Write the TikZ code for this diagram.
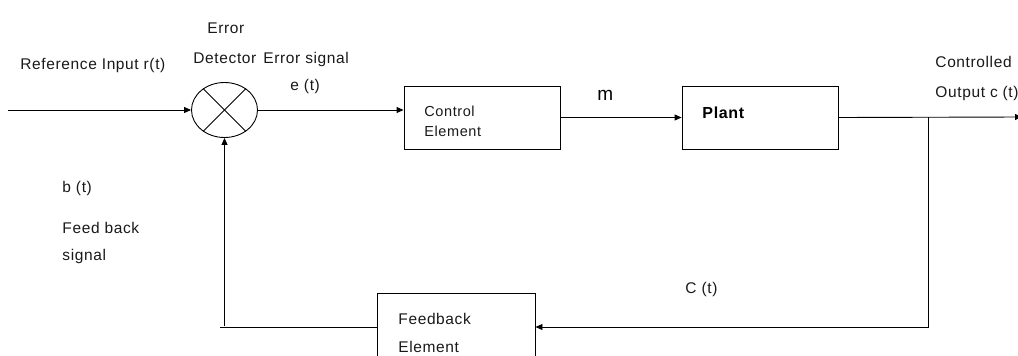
\documentclass[tikz,border=0pt]{standalone}
\usepackage{fontspec}
\setmainfont{Liberation Sans}[LetterSpace=4]
\usetikzlibrary{arrows.meta,shapes.geometric}
\begin{document}
\begin{tikzpicture}[x=1pt,y=-1pt,
  every path/.style={line width=0.9pt},
  tip/.style={-{Triangle[length=7pt,width=6pt]}},
  lbl/.style={anchor=base west,inner sep=0pt,font=\fontsize{15.5}{18}\selectfont,text=black!90},
  blk/.style={draw,rectangle,minimum width=156pt,minimum height=63pt,inner sep=0pt}]
\useasboundingbox (0,0) rectangle (1018,356);
% nodes
\node[draw,ellipse,minimum width=66pt,minimum height=55pt,inner sep=0pt] (ed) at (224.5,110) {};
\node[blk] (ctrl) at (482,117.5) {};
\node[blk] (plant) at (760,117.5) {};
\node[blk,minimum width=158pt,minimum height=68pt] (fb) at (456,327) {};
\coordinate (in) at (8,110);
\coordinate (out) at (1022,117);
\coordinate (br) at (928,117);
\coordinate (fbl) at (224.5,326);
% cross
\draw (ed.45) -- (ed.225);
\draw (ed.135) -- (ed.315);
% connectors
\draw[tip] (in) -- (ed.west);
\draw[tip] (ed.east) -- (ctrl.west |- ed.east);
\draw[tip] (ctrl.east) -- (plant.west);
\draw[tip] (plant.east) -- (out);
\draw[tip] (br) |- (fb.east);
\draw (fb.west) -- (220,327);
\draw[tip] (fbl) -- (ed.south);
% labels
\node[lbl] (t1) at (207,33) {Error};
\node[lbl] (t2) at (193,63) {Detector};
\node[lbl] (t3) at (263,63) {Error signal};
\node[lbl] (t4) at (290,90) {e (t)};
\node[lbl] (t5) at (20,69) {Reference Input r(t)};
\node[lbl] (t6) at (935,67) {Controlled};
\node[lbl] (t7) at (935,97) {Output c (t)};
\node[lbl] (t8) at (62,192) {b (t)};
\node[lbl] (t9) at (62,233) {Feed back};
\node[lbl] (t10) at (62,260) {signal};
\node[lbl] (t11) at (685,293) {C (t)};
\node[lbl,font=\fontsize{14.5}{16}\selectfont] (t12) at (424,116) {Control};
\node[lbl,font=\fontsize{14.5}{16}\selectfont] (t13) at (424,136) {Element};
\node[lbl,font=\fontsize{16}{18}\bfseries,text=black] (t14) at (702,118) {Plant};
\node[lbl,font=\fontsize{19}{22}\selectfont,text=black] (t15) at (597,100) {m};
\node[lbl] (t16) at (398,324) {Feedback};
\node[lbl] (t17) at (398,352) {Element};
\end{tikzpicture}
\end{document}
